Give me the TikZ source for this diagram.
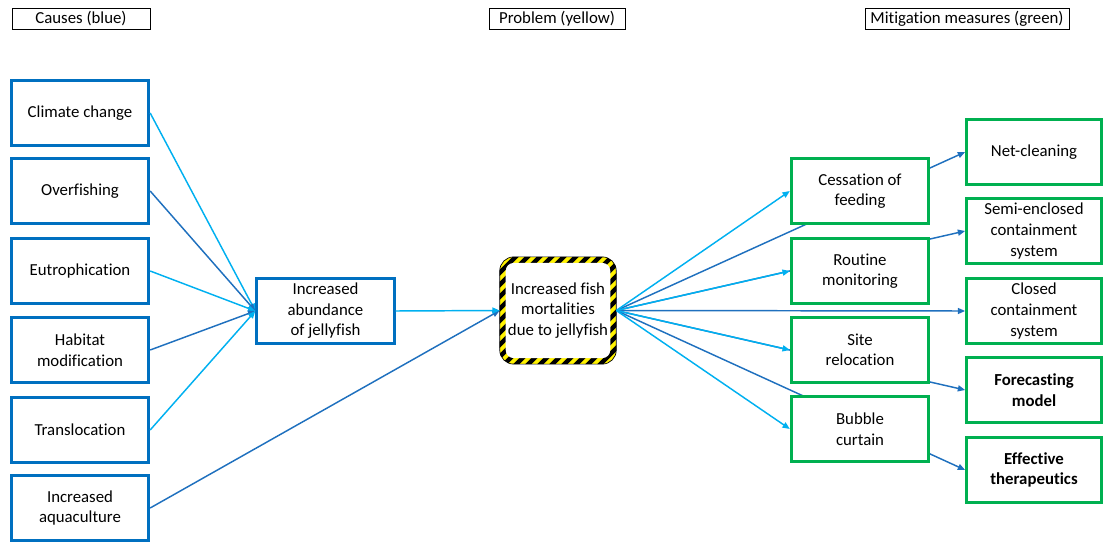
\documentclass[tikz,border=0pt]{standalone}
\usepackage{fontspec}
\setmainfont{Carlito}[Ligatures=NoCommon]
\usetikzlibrary{arrows.meta}
\definecolor{causeblue}{HTML}{0070C0}
\definecolor{lightarrow}{HTML}{00B0F0}
\definecolor{darkarrow}{HTML}{1F70BE}
\definecolor{measuregreen}{HTML}{00B050}
\definecolor{hazyellow}{HTML}{FFF200}
\pgfdeclarelayer{bg}
\pgfsetlayers{bg,main}
\tikzstyle{cause}=[draw=causeblue, line width=2.25pt, fill=white, minimum width=103pt, minimum height=49pt, align=center, inner sep=1pt]
\tikzstyle{measure}=[cause, draw=measuregreen]
\tikzstyle{remedy}=[measure, minimum width=101pt]
\tikzstyle{header}=[draw, line width=0.6pt, minimum height=16pt, inner sep=0pt]
\tikzstyle{edge}=[line width=1.1pt, -{Triangle[length=5.5pt,width=4.5pt]}]

\begin{document}
\begin{tikzpicture}[x=0.75pt, y=-0.75pt, font=\fontsize{12.6}{15.4}\selectfont]
    \useasboundingbox (0,0) rectangle (1103,542);

    \node[header, minimum width=103.5pt] (hcause) at (81,19) {Causes (blue)};
    \node[header, minimum width=102pt] (hprob) at (557,19) {Problem (yellow)};
    \node[header, minimum width=153pt] (hmit) at (967,19) {Mitigation measures (green)};

    \foreach \y/\name/\txt in {
                            113/clim/{Climate change},
                            191/overf/Overfishing,
                            271/eutro/Eutrophication,
                            350/habit/{Habitat\\modification},
                            430/transl/Translocation,
                            508/aqua/{Increased\\aquaculture}}
        \node[cause] (\name) at (80,\y) {\txt};

    \node[cause] (abund) at (325.5,311) {Increased\\abundance\\of jellyfish};
    \node[minimum width=87pt, minimum height=80pt, align=center, inner sep=0pt] (prob) at (558,310.5) {Increased fish\\mortalities\\due to jellyfish};

    \foreach \y/\name/\txt in {
                            191/cess/{Cessation of\\feeding},
                            271/routine/{Routine\\monitoring},
                            350/site/{Site\\relocation},
                            429/bubble/{Bubble\\curtain}}
        \node[measure] (\name) at (860,\y) {\txt};

    \foreach \y/\name/\txt in {
                            152/net/Net-cleaning,
                            231/semi/{Semi-enclosed\\containment\\system},
                            311/closed/{Closed\\containment\\system}}
        \node[remedy] (\name) at (1034,\y) {\txt};
    \node[remedy, font=\fontsize{12.6}{15.4}\selectfont\bfseries] (forecast) at (1034,390) {Forecasting\\model};
    \node[remedy, font=\fontsize{12.6}{15.4}\selectfont\bfseries] (effect) at (1034,470) {Effective\\therapeutics};

    % hazard frame and the long arrows behind the boxes
    \begin{pgfonlayer}{bg}
        \foreach \name in {net,semi,closed,forecast,effect}
            \draw[edge, draw=darkarrow] (prob.east) -- (\name.west);
        \begin{scope}
            \clip[rounded corners=10.5pt] (prob.south west) rectangle (prob.north east);
            \fill[hazyellow] (prob.south west) rectangle (prob.north east);
            \foreach \s in {-14,...,14}
                \draw[line width=3.2pt] ([xshift=\s*9pt]prob.center) ++(-70pt,-70pt) -- ++(140pt,140pt);
        \end{scope}
        \draw[line width=0.5pt, rounded corners=10.5pt] (prob.south west) rectangle (prob.north east);
        \fill[white, rounded corners=6pt] ([shift={(4.5pt,4.5pt)}]prob.south west) rectangle ([shift={(-4.5pt,-4.5pt)}]prob.north east);
    \end{pgfonlayer}

    % Connect causes and measures
    \foreach \name/\col in {clim/lightarrow, overf/darkarrow, eutro/lightarrow, habit/darkarrow, transl/lightarrow}
        \draw[edge, draw=\col] (\name.east) -- (abund.west);
    \draw[edge, draw=darkarrow] (aqua.east) -- (prob.west);
    \draw[edge, draw=lightarrow] (abund.east) -- (prob.west);
    \foreach \name in {cess,routine,site,bubble}
        \draw[edge, draw=lightarrow] (prob.east) -- (\name.west);

\end{tikzpicture}
\end{document}
